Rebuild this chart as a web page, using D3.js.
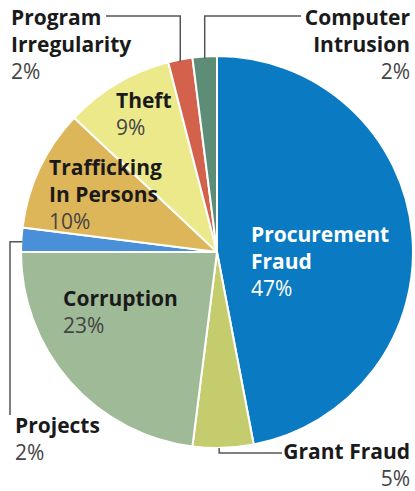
<!DOCTYPE html>
<html>
<head>
<meta charset="utf-8">
<script src="https://cdn.jsdelivr.net/npm/d3@7"></script>
<style>
  body { margin: 0; background: #fff; }
  text { font-family: "Open Sans", "Noto Sans", sans-serif; }
</style>
</head>
<body>
<div id="chart"></div>
<script>
// categories clockwise from 12 o'clock
const categories = ["Procurement Fraud", "Grant Fraud", "Corruption", "Projects",
  "Trafficking In Persons", "Theft", "Program Irregularity", "Computer Intrusion"];
const shares = [47, 5, 23, 2, 10, 9, 2, 2];
const pctLabels = ["47%", "5%", "23%", "2%", "10%", "9%", "2%", "2%"];
const colors = ["#0a7bc2", "#c5cc6e", "#9fba96", "#4a90d8", "#ddb65a", "#ece98b", "#d3614b", "#5d8c77"];

const width = 415, height = 491;
const cx = 217, cy = 252, r = 196;

const svg = d3.select("#chart").append("svg")
  .attr("width", width)
  .attr("height", height);

const data = categories.map((c, i) => ({ name: c, value: shares[i], pct: pctLabels[i], color: colors[i] }));

const pie = d3.pie().sort(null).value(d => d.value);
const arcs = pie(data);
const arc = d3.arc().innerRadius(0).outerRadius(r);

const g = svg.append("g").attr("transform", `translate(${cx},${cy})`);

g.selectAll("path")
  .data(arcs)
  .enter()
  .append("path")
  .attr("d", arc)
  .attr("fill", d => d.data.color)
  .attr("stroke", "#fff")
  .attr("stroke-width", 2)
  .attr("stroke-linejoin", "round");

// point on the rim at a slice's middle angle, in page coords
function rim(d) {
  const a = (d.startAngle + d.endAngle) / 2;
  return [cx + r * Math.sin(a), cy - r * Math.cos(a)];
}
const byName = {};
arcs.forEach(d => byName[d.data.name] = d);

// leader lines
const leaders = [];
{
  const p = rim(byName["Program Irregularity"]);
  leaders.push([[106, 16], [p[0], 16], [p[0], p[1] + 2]]);
}
{
  const p = rim(byName["Computer Intrusion"]);
  leaders.push([[p[0], p[1] + 2], [p[0], 16], [301, 16]]);
}
{
  const p = rim(byName["Projects"]);
  leaders.push([[p[0] + 1, p[1] + 2], [10, p[1] + 2], [10, 415]]);
}
{
  const p = rim(byName["Grant Fraud"]);
  leaders.push([[p[0] - 4, p[1]], [p[0] - 4, 453], [282, 453]]);
}
svg.selectAll(".leader")
  .data(leaders)
  .enter()
  .append("path")
  .attr("class", "leader")
  .attr("d", d3.line())
  .attr("fill", "none")
  .attr("stroke", "#555")
  .attr("stroke-width", 1.5);

// labels: lines of bold name, then the percentage
const labels = [
  { name: "Program Irregularity", lines: ["Program", "Irregularity"], x: 11, y: 25, anchor: "start", dark: true },
  { name: "Computer Intrusion", lines: ["Computer", "Intrusion"], x: 410, y: 25, anchor: "end", dark: true },
  { name: "Theft", lines: ["Theft"], x: 116, y: 108, anchor: "start", dark: true },
  { name: "Trafficking In Persons", lines: ["Trafficking", "In Persons"], x: 49, y: 175, anchor: "start", dark: true },
  { name: "Procurement Fraud", lines: ["Procurement", "Fraud"], x: 251, y: 242, anchor: "start", dark: false },
  { name: "Corruption", lines: ["Corruption"], x: 63, y: 306, anchor: "start", dark: true },
  { name: "Projects", lines: ["Projects"], x: 15, y: 433, anchor: "start", dark: true },
  { name: "Grant Fraud", lines: ["Grant Fraud"], x: 410, y: 459, anchor: "end", dark: true }
];
const lh = 27;

labels.forEach(l => {
  const d = byName[l.name].data;
  const t = svg.append("text")
    .attr("x", l.x)
    .attr("y", l.y)
    .attr("text-anchor", l.anchor)
    .style("font-size", "21px");
  l.lines.forEach((s, i) => {
    t.append("tspan")
      .attr("x", l.x)
      .attr("dy", i === 0 ? 0 : lh)
      .style("font-weight", "bold")
      .style("fill", l.dark ? "#1a1a1a" : "#fff")
      .text(s);
  });
  t.append("tspan")
    .attr("x", l.x)
    .attr("dy", lh)
    .style("font-weight", "normal")
    .style("fill", l.dark ? "#444" : "#fff")
    .text(d.pct);
});
</script>
</body>
</html>
